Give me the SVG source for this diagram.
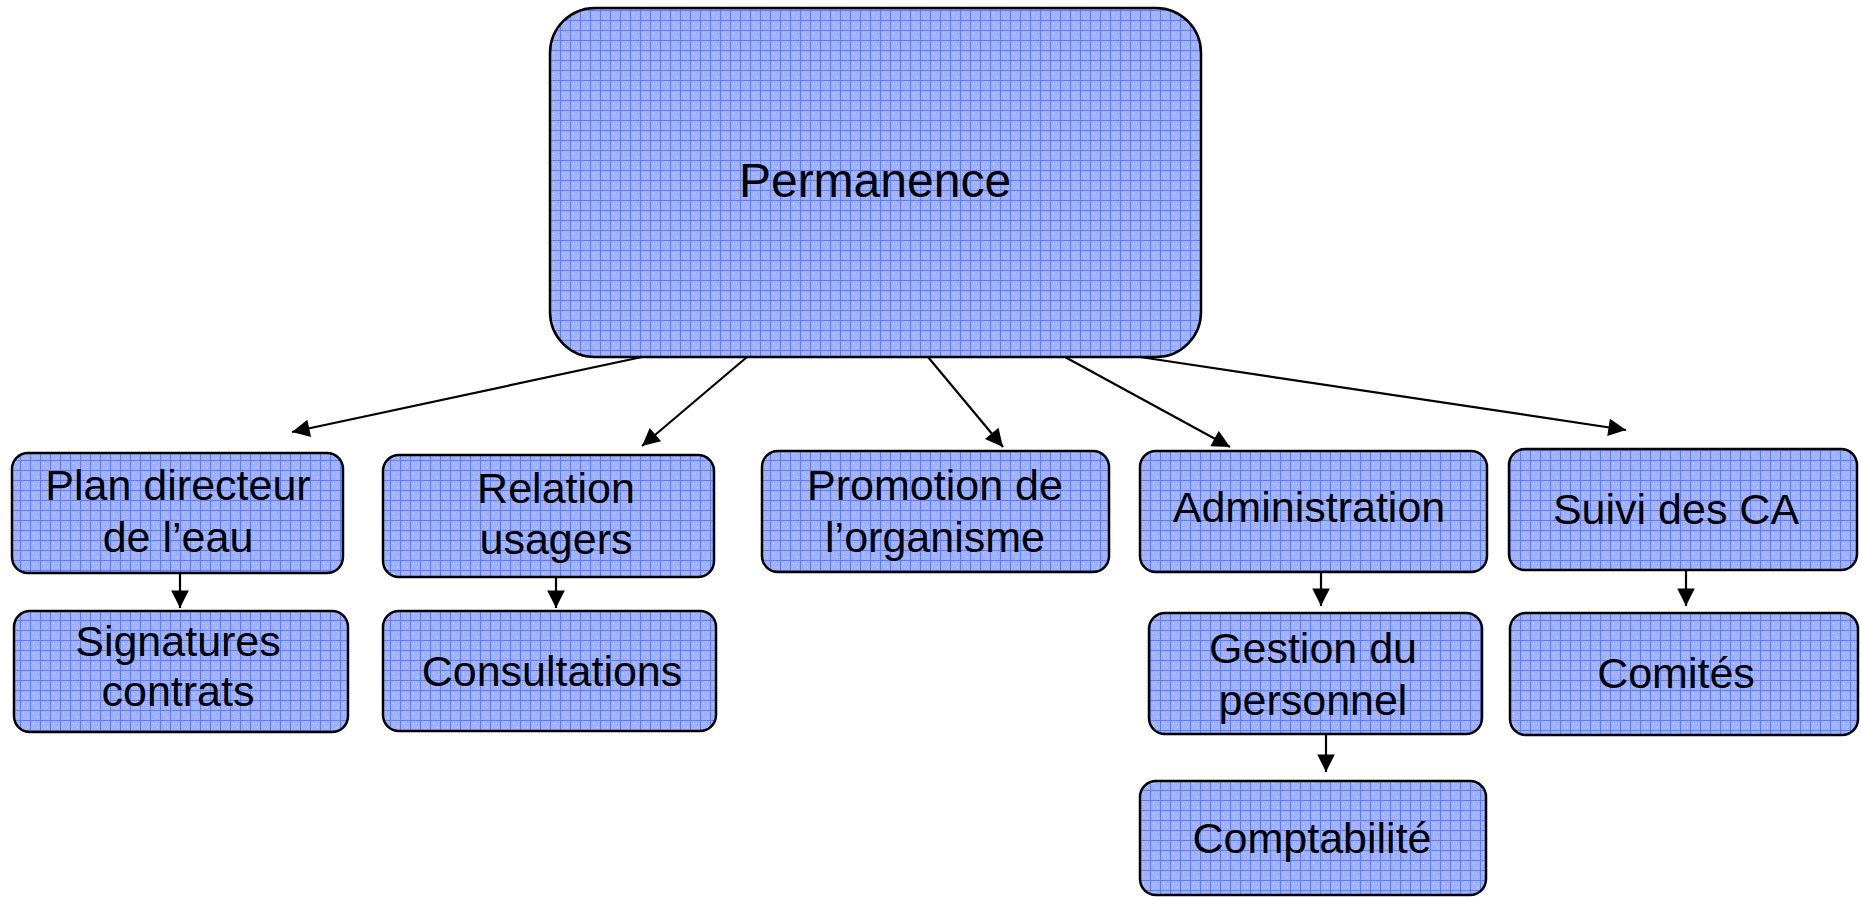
<svg xmlns="http://www.w3.org/2000/svg" width="1861" height="897" viewBox="0 0 1861 897">
<defs>
<pattern id="grid" width="10" height="10" patternUnits="userSpaceOnUse">
<rect width="10" height="10" fill="#a2b2fa"/>
<rect x="3" y="3" width="1" height="1" fill="#d4dcff"/>
<rect x="7" y="7" width="1" height="1" fill="#d4dcff"/>
<path d="M0 0.5H10M0.5 0V10" stroke="#5f7ef5" stroke-width="1"/>
</pattern>
<marker id="ah" viewBox="0 0 10 10" refX="10" refY="5" markerWidth="9" markerHeight="8" markerUnits="strokeWidth" orient="auto">
<path d="M0 0L10 5L0 10Z" fill="#000"/>
</marker>
</defs>
<style>
.box{fill:url(#grid);stroke:#000;stroke-width:2.5}
.t{font-family:"Liberation Sans",Arial,sans-serif;font-size:43px;fill:#000;text-anchor:middle}
.big{font-size:48px}
.c{stroke:#000;stroke-width:2.2;fill:none;marker-end:url(#ah)}
</style>
<rect width="1861" height="897" fill="#fff"/>
<g id="connectors">
<line class="c" x1="642" y1="357" x2="292" y2="432"/>
<line class="c" x1="747" y1="357" x2="642" y2="446"/>
<line class="c" x1="928" y1="357" x2="1003" y2="447"/>
<line class="c" x1="1065" y1="357" x2="1230" y2="447"/>
<line class="c" x1="1140" y1="357" x2="1626" y2="430"/>
<line class="c" x1="180" y1="573" x2="180" y2="608"/>
<line class="c" x1="556" y1="577" x2="556" y2="608"/>
<line class="c" x1="1321" y1="572" x2="1321" y2="606"/>
<line class="c" x1="1326" y1="734" x2="1326" y2="772"/>
<line class="c" x1="1686" y1="570" x2="1686" y2="606"/>
</g>
<g id="permanence">
<rect class="box" x="550" y="8" width="651" height="349" rx="45"/>
<text class="t big" x="875" y="197">Permanence</text>
</g>
<g id="plan">
<rect class="box" x="12" y="453" width="331" height="120" rx="16"/>
<text class="t" x="178" y="500">Plan directeur</text>
<text class="t" x="178" y="552">de l’eau</text>
</g>
<g id="signatures">
<rect class="box" x="14" y="611" width="334" height="121" rx="16"/>
<text class="t" x="178" y="656">Signatures</text>
<text class="t" x="178" y="706">contrats</text>
</g>
<g id="relation">
<rect class="box" x="383" y="455" width="331" height="122" rx="16"/>
<text class="t" x="556" y="503">Relation</text>
<text class="t" x="556" y="554">usagers</text>
</g>
<g id="consultations">
<rect class="box" x="383" y="611" width="333" height="120" rx="16"/>
<text class="t" x="552" y="686">Consultations</text>
</g>
<g id="promotion">
<rect class="box" x="762" y="451" width="347" height="121" rx="16"/>
<text class="t" x="935" y="500">Promotion de</text>
<text class="t" x="935" y="552">l’organisme</text>
</g>
<g id="administration">
<rect class="box" x="1140" y="451" width="347" height="121" rx="16"/>
<text class="t" x="1309" y="522">Administration</text>
</g>
<g id="gestion">
<rect class="box" x="1149" y="613" width="333" height="121" rx="16"/>
<text class="t" x="1313" y="663">Gestion du</text>
<text class="t" x="1313" y="715">personnel</text>
</g>
<g id="comptabilite">
<rect class="box" x="1140" y="781" width="346" height="114" rx="16"/>
<text class="t" x="1312" y="853">Comptabilité</text>
</g>
<g id="suivi">
<rect class="box" x="1509" y="449" width="348" height="121" rx="16"/>
<text class="t" x="1676" y="524">Suivi des CA</text>
</g>
<g id="comites">
<rect class="box" x="1510" y="613" width="348" height="122" rx="16"/>
<text class="t" x="1676" y="688">Comités</text>
</g>
</svg>
